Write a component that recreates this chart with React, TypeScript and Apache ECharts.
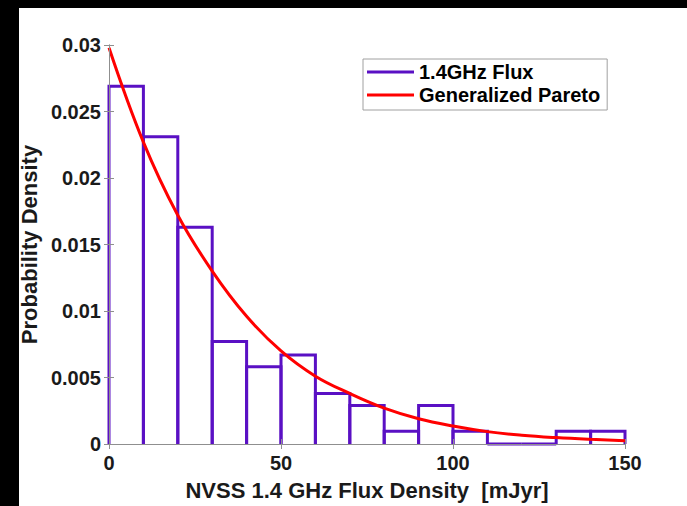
import React, { useEffect, useRef } from "react";
import * as echarts from "echarts";

const binEdges = [0, 10, 20, 30, 40, 50, 60, 70, 80, 90, 100, 110, 120, 130, 140, 150];
const binDensity = [0.0269, 0.0231, 0.0163, 0.0077, 0.0058, 0.0067, 0.0038, 0.0029, 0.00096, 0.0029, 0.00096, 0, 0, 0.00096, 0.00096];
const fitX = [0, 10, 20, 30, 40, 50, 60, 70, 80, 90, 100, 110, 120, 130, 140, 150];
const fitY = [0.0298, 0.0227, 0.0172, 0.013, 0.0096, 0.007, 0.0051, 0.0038, 0.0027, 0.0019, 0.00135, 0.00093, 0.00066, 0.00048, 0.00035, 0.00025];

const PURPLE = "#5a10c4";
const RED = "#ff0000";
const GRAY = "#8f8f8f";
const FONT = "'Liberation Sans', Arial, Helvetica, sans-serif";

export default function App() {
  const ref = useRef<HTMLDivElement>(null);
  useEffect(() => {
    if (!ref.current) return;
    const chart = echarts.init(ref.current, undefined, { renderer: "svg" });
    const histData = binDensity.map((d, i) => [binEdges[i], binEdges[i + 1], d]);
    const fitData = fitX.map((x, i) => [x, fitY[i]]);
    const axisCommon = {
      type: "value" as const,
      splitLine: { show: false },
      axisLine: { show: true, lineStyle: { color: GRAY, width: 1 } },
      axisTick: { show: true, inside: true, length: 5, lineStyle: { color: GRAY, width: 1 } },
      z: 10,
    };
    chart.setOption({
      animation: false,
      backgroundColor: "#ffffff",
      grid: { left: 109, right: 62, top: 45, bottom: 56 },
      xAxis: [
        {
          ...axisCommon,
          min: 0,
          max: 150,
          interval: 50,
          position: "bottom",
          axisLabel: { color: "#1a1a1a", fontSize: 20, fontWeight: "bold", fontFamily: FONT, margin: 9 },
          name: "NVSS 1.4 GHz Flux Density  [mJyr]",
          nameLocation: "middle",
          nameGap: 35,
          nameTextStyle: { color: "#1a1a1a", fontSize: 22, fontWeight: "bold", fontFamily: FONT },
        },
        {
          ...axisCommon,
          min: 0,
          max: 150,
          interval: 50,
          position: "top",
          axisLabel: { show: false },
        },
      ],
      yAxis: [
        {
          ...axisCommon,
          min: 0,
          max: 0.03,
          interval: 0.005,
          position: "left",
          axisLabel: {
            color: "#1a1a1a",
            fontSize: 20,
            fontWeight: "bold",
            fontFamily: FONT,
            margin: 8,
            formatter: (v: number) => String(+v.toFixed(3)),
          },
          name: "Probability Density",
          nameLocation: "middle",
          nameGap: 62,
          nameTextStyle: { color: "#1a1a1a", fontSize: 22, fontWeight: "bold", fontFamily: FONT },
        },
        {
          ...axisCommon,
          min: 0,
          max: 0.03,
          interval: 0.005,
          position: "right",
          axisLabel: { show: false },
        },
      ],
      legend: {
        orient: "vertical",
        left: 363,
        top: 59,
        itemWidth: 47,
        itemHeight: 3,
        itemGap: 3,
        padding: [3, 7, 5, 4],
        borderColor: "#a0a0a0",
        borderWidth: 1,
        backgroundColor: "#ffffff",
        textStyle: { color: "#000", fontSize: 20, fontWeight: "bold", fontFamily: FONT },
        data: [
          { name: "1.4GHz Flux", icon: "rect", itemStyle: { color: PURPLE, borderWidth: 0 } },
          { name: "Generalized Pareto", icon: "rect", itemStyle: { color: RED, borderWidth: 0 } },
        ],
      },
      series: [
        {
          name: "1.4GHz Flux",
          type: "custom",
          color: PURPLE,
          xAxisIndex: 0,
          yAxisIndex: 0,
          encode: { x: [0, 1], y: 2 },
          data: histData,
          z: 2,
          renderItem: (params: any, api: any) => {
            const x0 = api.value(0);
            const x1 = api.value(1);
            const h = api.value(2);
            const p0 = api.coord([x0, 0]);
            const p1 = api.coord([x0, h]);
            const p2 = api.coord([x1, h]);
            const p3 = api.coord([x1, 0]);
            return {
              type: "polyline",
              shape: { points: [p0, p1, p2, p3] },
              style: { fill: "none", stroke: PURPLE, lineWidth: 3 },
            };
          },
        },
        {
          name: "Generalized Pareto",
          type: "line",
          xAxisIndex: 0,
          yAxisIndex: 0,
          data: fitData,
          smooth: 0.4,
          symbol: "none",
          color: RED,
          lineStyle: { color: RED, width: 3 },
          z: 3,
        },
      ],
      graphic: [
        { type: "rect", left: 0, top: 0, shape: { width: 687, height: 8 }, style: { fill: "#000" }, z: 100 },
        { type: "rect", left: 0, top: 0, shape: { width: 19, height: 506 }, style: { fill: "#000" }, z: 100 },
      ],
    });
    return () => chart.dispose();
  }, []);
  return (
    <div
      ref={ref}
      style={{ position: "fixed", left: 0, top: 0, width: 687, height: 506, background: "#fff" }}
    />
  );
}
